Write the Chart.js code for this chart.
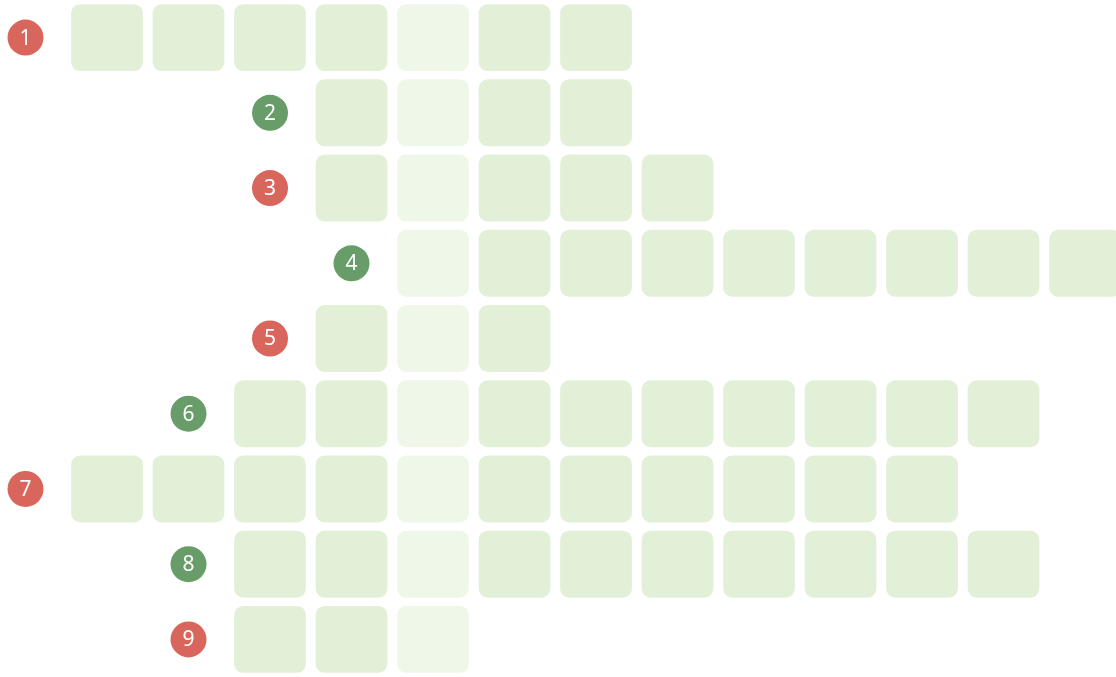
<!DOCTYPE html>
<html>
<head>
<meta charset="utf-8">
<script src="https://cdn.jsdelivr.net/npm/chart.js@4"></script>
<style>
    html, body { margin: 0; padding: 0; background: #fff; }
    #wrap { width: 1116px; height: 677px; }
</style>
</head>
<body>
<div id="wrap"><canvas id="grid" width="1116" height="677"></canvas></div>
<script>
// Datos del crucigrama
const rowLabels = ['1', '2', '3', '4', '5', '6', '7', '8', '9'];
const rowStart = [0, 3, 3, 4, 3, 2, 0, 2, 2];
const rowLength = [7, 4, 5, 9, 3, 10, 11, 10, 3];
const rowKind = ['red', 'green', 'red', 'green', 'red', 'green', 'red', 'green', 'red'];
const answerColumn = 4;
const columnCount = 13;

const kindColors = { red: '#d9665c', green: '#689c69' };
const cellColor = '#e2f0d8';
const answerColor = '#eff7e9';

function cellDatasets() {
    const sets = [];
    for (let col = 0; col < columnCount; col++) {
        sets.push({
            type: 'bar',
            indexAxis: 'y',
            grouped: false,
            data: rowLabels.map((_, r) => {
                const inside = col >= rowStart[r] && col < rowStart[r] + rowLength[r];
                return inside ? [col - 0.44, col + 0.44] : null;
            }),
            backgroundColor: col === answerColumn ? answerColor : cellColor,
            borderWidth: 0,
            borderRadius: 9,
            borderSkipped: false,
            categoryPercentage: 1,
            barPercentage: 0.89
        });
    }
    return sets;
}

const markerSet = {
    type: 'scatter',
    data: rowLabels.map((label, r) => ({ x: rowStart[r] - 1, y: label })),
    pointRadius: 18,
    pointHoverRadius: 18,
    pointBackgroundColor: rowKind.map(k => kindColors[k]),
    pointBorderWidth: 0,
    pointStyle: 'circle'
};

const numberLabels = {
    id: 'numberLabels',
    afterDatasetsDraw(chart) {
        const meta = chart.getDatasetMeta(chart.data.datasets.length - 1);
        const ctx = chart.ctx;
        ctx.save();
        ctx.fillStyle = '#ffffff';
        ctx.font = '21px "Noto Sans", sans-serif';
        ctx.textAlign = 'center';
        ctx.textBaseline = 'middle';
        meta.data.forEach((pt, i) => {
            ctx.fillText(rowLabels[i], pt.x, pt.y + 1);
        });
        ctx.restore();
    }
};

new Chart(document.getElementById('grid'), {
    data: {
        labels: rowLabels,
        datasets: [...cellDatasets(), markerSet]
    },
    options: {
        responsive: false,
        animation: false,
        events: [],
        layout: { padding: 0, autoPadding: false },
        plugins: {
            legend: { display: false },
            tooltip: { enabled: false }
        },
        scales: {
            x: {
                type: 'linear',
                display: false,
                min: -1.313,
                max: 12.38
            },
            y: {
                type: 'category',
                labels: rowLabels,
                display: false,
                offset: true
            }
        }
    },
    plugins: [numberLabels]
});
</script>
</body>
</html>
